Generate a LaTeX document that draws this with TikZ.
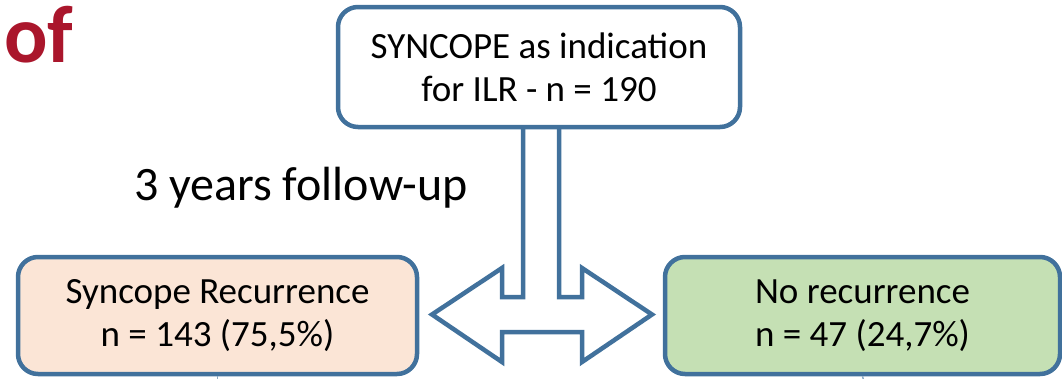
\documentclass[tikz,border=0pt]{standalone}
\usepackage{fontspec}
\setmainfont{Carlito}
\definecolor{bordblue}{HTML}{41719C}
\definecolor{peach}{HTML}{FBE5D6}
\definecolor{lgreen}{HTML}{C5E0B4}
\definecolor{darkred}{RGB}{170,22,44}
\begin{document}
\begin{tikzpicture}[x=1pt,y=-1pt,
  box/.style={draw=bordblue,line width=4.5pt,rounded corners=20pt,align=center,
    inner sep=0pt,font=\fontsize{37}{43}\selectfont},
  arrowshape/.style={draw=bordblue,line width=4.5pt,fill=white,line join=miter}]
\useasboundingbox (0,0) rectangle (1062,378);
\node[anchor=base west,font=\fontsize{81}{90}\selectfont\bfseries,text=darkred,inner sep=0pt] (of) at (4,62) {of};
\node[anchor=base west,font=\fontsize{48}{56}\selectfont,inner sep=0pt] (fu) at (134,200) {3 years follow-up};
% arrow (drawn first, boxes cover its ends)
\coordinate (as) at (541,127);
\draw[arrowshape] (as) ++(-18,0) -- ++(0,170) -- ++(-21,0) -- ++(0,-29) -- ++(-70,46.5)
  -- ++(70,47.5) -- ++(0,-30) -- ++(80,0) -- ++(0,30) -- ++(70,-47.5) -- ++(-70,-46.5)
  -- ++(0,29) -- ++(-23,0) -- ++(0,-170);
\node[box,fill=white,minimum width=402pt,minimum height=120pt] (top) at (539,67)
  {SYNCOPE as indication\\for ILR - n = 190};
\node[box,fill=peach,minimum width=399pt,minimum height=117pt] (left) at (217.5,315.5)
  {Syncope Recurrence\\n = 143 (75,5\%)};
\node[box,fill=lgreen,minimum width=395pt,minimum height=117pt] (right) at (862.5,315.5)
  {No recurrence\\n = 47 (24,7\%)};
\coordinate (ls) at (217.5,382);
\coordinate (rs) at (864,382);
\draw[bordblue!60,line width=1.5pt] (left.south) -- (ls);
\draw[bordblue!60,line width=1.5pt] (right.south) -- (rs);
\end{tikzpicture}
\end{document}
